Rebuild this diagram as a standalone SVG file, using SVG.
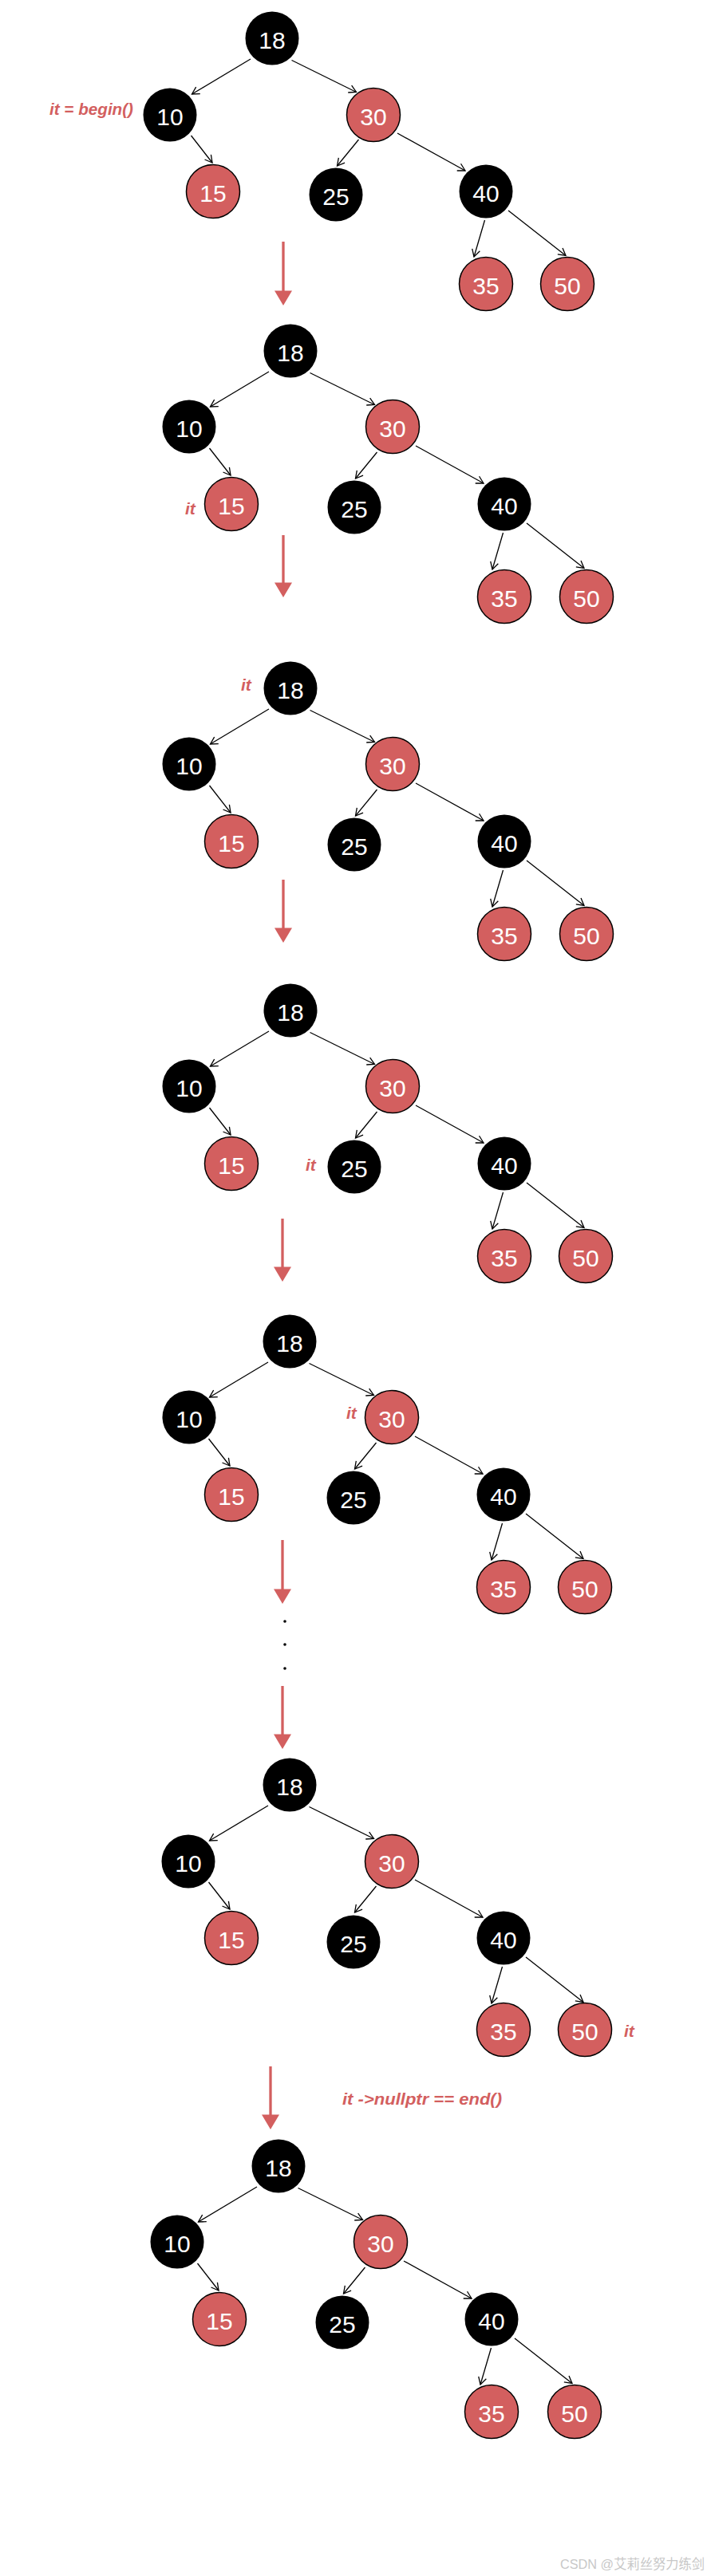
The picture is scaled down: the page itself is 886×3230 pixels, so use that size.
<svg xmlns="http://www.w3.org/2000/svg" width="886" height="3230" viewBox="0 0 886 3230">
<defs>
<style>
.blk{fill:#000}
.red{fill:#d35f5f;stroke:#000;stroke-width:1.5}
.num{font-family:"Liberation Sans",Arial,sans-serif;font-size:30px;fill:#fff;text-anchor:middle}
.edge{stroke:#000;stroke-width:1.3;fill:none;marker-end:url(#ah)}
.lbl{font-family:"Liberation Sans",Arial,sans-serif;font-size:21px;font-weight:bold;font-style:italic;fill:#d35f5f}
.flow{stroke:#d35f5f;stroke-width:3.3}
.head{fill:#d35f5f}
.wm{font-family:"Liberation Sans","Noto Sans CJK SC",sans-serif;font-size:17px;fill:#c8c8c8}
</style>
<marker id="ah" markerUnits="userSpaceOnUse" markerWidth="12" markerHeight="12" viewBox="-10 -6 12 12" refX="0" refY="0" orient="auto">
<path d="M-9,-5 L0,0 L-9,5" fill="none" stroke="#000" stroke-width="1.3"/>
</marker>
</defs>
<rect width="886" height="3230" fill="#fff"/>

<!-- Tree 1 -->
<g id="tree1" transform="translate(341,48)">
<g id="t1-edges">
<path class="edge" d="M-27,26 L-100.5,70"/><path class="edge" d="M24.5,27.5 L105.5,67.5"/><path class="edge" d="M-101.5,122 L-75,156"/><path class="edge" d="M108.5,127 L81.5,160"/><path class="edge" d="M157,119 L242,166"/><path class="edge" d="M266.5,228 L253,274"/><path class="edge" d="M296,216 L368,272.5"/>
</g>
<g id="t1-n18"><circle r="33.5" class="blk"/><text class="num" y="13">18</text></g>
<g id="t1-n10" transform="translate(-128,96)"><circle r="33.5" class="blk"/><text class="num" y="13">10</text></g>
<g id="t1-n30" transform="translate(127,96)"><circle r="33.5" class="red"/><text class="num" y="13">30</text></g>
<g id="t1-n15" transform="translate(-74,192)"><circle r="33.5" class="red"/><text class="num" y="13">15</text></g>
<g id="t1-n25" transform="translate(80,196)"><circle r="33.5" class="blk"/><text class="num" y="13">25</text></g>
<g id="t1-n40" transform="translate(268,192)"><circle r="33.5" class="blk"/><text class="num" y="13">40</text></g>
<g id="t1-n35" transform="translate(268,308)"><circle r="33.5" class="red"/><text class="num" y="13">35</text></g>
<g id="t1-n50" transform="translate(370,308)"><circle r="33.5" class="red"/><text class="num" y="13">50</text></g>
</g>

<!-- Tree 2 -->
<g id="tree2" transform="translate(364,440)">
<g id="t2-edges">
<path class="edge" d="M-27,26 L-100.5,70"/><path class="edge" d="M24.5,27.5 L105.5,67.5"/><path class="edge" d="M-101.5,122 L-75,156"/><path class="edge" d="M108.5,127 L81.5,160"/><path class="edge" d="M157,119 L242,166"/><path class="edge" d="M266.5,228 L253,274"/><path class="edge" d="M296,216 L368,272.5"/>
</g>
<g id="t2-n18"><circle r="33.5" class="blk"/><text class="num" y="13">18</text></g>
<g id="t2-n10" transform="translate(-127,95)"><circle r="33.5" class="blk"/><text class="num" y="13">10</text></g>
<g id="t2-n30" transform="translate(128,95)"><circle r="33.5" class="red"/><text class="num" y="13">30</text></g>
<g id="t2-n15" transform="translate(-74,192)"><circle r="33.5" class="red"/><text class="num" y="13">15</text></g>
<g id="t2-n25" transform="translate(80,196)"><circle r="33.5" class="blk"/><text class="num" y="13">25</text></g>
<g id="t2-n40" transform="translate(268,192)"><circle r="33.5" class="blk"/><text class="num" y="13">40</text></g>
<g id="t2-n35" transform="translate(268,308)"><circle r="33.5" class="red"/><text class="num" y="13">35</text></g>
<g id="t2-n50" transform="translate(371,308)"><circle r="33.5" class="red"/><text class="num" y="13">50</text></g>
</g>

<!-- Tree 3 -->
<g id="tree3" transform="translate(364,863)">
<g id="t3-edges">
<path class="edge" d="M-27,26 L-100.5,70"/><path class="edge" d="M24.5,27.5 L105.5,67.5"/><path class="edge" d="M-101.5,122 L-75,156"/><path class="edge" d="M108.5,127 L81.5,160"/><path class="edge" d="M157,119 L242,166"/><path class="edge" d="M266.5,228 L253,274"/><path class="edge" d="M296,216 L368,272.5"/>
</g>
<g id="t3-n18"><circle r="33.5" class="blk"/><text class="num" y="13">18</text></g>
<g id="t3-n10" transform="translate(-127,95)"><circle r="33.5" class="blk"/><text class="num" y="13">10</text></g>
<g id="t3-n30" transform="translate(128,95)"><circle r="33.5" class="red"/><text class="num" y="13">30</text></g>
<g id="t3-n15" transform="translate(-74,192)"><circle r="33.5" class="red"/><text class="num" y="13">15</text></g>
<g id="t3-n25" transform="translate(80,196)"><circle r="33.5" class="blk"/><text class="num" y="13">25</text></g>
<g id="t3-n40" transform="translate(268,192)"><circle r="33.5" class="blk"/><text class="num" y="13">40</text></g>
<g id="t3-n35" transform="translate(268,308)"><circle r="33.5" class="red"/><text class="num" y="13">35</text></g>
<g id="t3-n50" transform="translate(371,308)"><circle r="33.5" class="red"/><text class="num" y="13">50</text></g>
</g>

<!-- Tree 4 -->
<g id="tree4" transform="translate(364,1267)">
<g id="t4-edges">
<path class="edge" d="M-27,26 L-100.5,70"/><path class="edge" d="M24.5,27.5 L105.5,67.5"/><path class="edge" d="M-101.5,122 L-75,156"/><path class="edge" d="M108.5,127 L81.5,160"/><path class="edge" d="M157,119 L242,166"/><path class="edge" d="M266.5,228 L253,274"/><path class="edge" d="M296,216 L368,272.5"/>
</g>
<g id="t4-n18"><circle r="33.5" class="blk"/><text class="num" y="13">18</text></g>
<g id="t4-n10" transform="translate(-127,95)"><circle r="33.5" class="blk"/><text class="num" y="13">10</text></g>
<g id="t4-n30" transform="translate(128,95)"><circle r="33.5" class="red"/><text class="num" y="13">30</text></g>
<g id="t4-n15" transform="translate(-74,192)"><circle r="33.5" class="red"/><text class="num" y="13">15</text></g>
<g id="t4-n25" transform="translate(80,196)"><circle r="33.5" class="blk"/><text class="num" y="13">25</text></g>
<g id="t4-n40" transform="translate(268,192)"><circle r="33.5" class="blk"/><text class="num" y="13">40</text></g>
<g id="t4-n35" transform="translate(268,308)"><circle r="33.5" class="red"/><text class="num" y="13">35</text></g>
<g id="t4-n50" transform="translate(370,308)"><circle r="33.5" class="red"/><text class="num" y="13">50</text></g>
</g>

<!-- Tree 5 -->
<g id="tree5" transform="translate(363,1682)">
<g id="t5-edges">
<path class="edge" d="M-27,26 L-100.5,70"/><path class="edge" d="M24.5,27.5 L105.5,67.5"/><path class="edge" d="M-101.5,122 L-75,156"/><path class="edge" d="M108.5,127 L81.5,160"/><path class="edge" d="M157,119 L242,166"/><path class="edge" d="M266.5,228 L253,274"/><path class="edge" d="M296,216 L368,272.5"/>
</g>
<g id="t5-n18"><circle r="33.5" class="blk"/><text class="num" y="13">18</text></g>
<g id="t5-n10" transform="translate(-126,95)"><circle r="33.5" class="blk"/><text class="num" y="13">10</text></g>
<g id="t5-n30" transform="translate(128,95)"><circle r="33.5" class="red"/><text class="num" y="13">30</text></g>
<g id="t5-n15" transform="translate(-73,192)"><circle r="33.5" class="red"/><text class="num" y="13">15</text></g>
<g id="t5-n25" transform="translate(80,196)"><circle r="33.5" class="blk"/><text class="num" y="13">25</text></g>
<g id="t5-n40" transform="translate(268,192)"><circle r="33.5" class="blk"/><text class="num" y="13">40</text></g>
<g id="t5-n35" transform="translate(268,308)"><circle r="33.5" class="red"/><text class="num" y="13">35</text></g>
<g id="t5-n50" transform="translate(370,308)"><circle r="33.5" class="red"/><text class="num" y="13">50</text></g>
</g>

<!-- Tree 6 -->
<g id="tree6" transform="translate(363,2238)">
<g id="t6-edges">
<path class="edge" d="M-27,26 L-100.5,70"/><path class="edge" d="M24.5,27.5 L105.5,67.5"/><path class="edge" d="M-101.5,122 L-75,156"/><path class="edge" d="M108.5,127 L81.5,160"/><path class="edge" d="M157,119 L242,166"/><path class="edge" d="M266.5,228 L253,274"/><path class="edge" d="M296,216 L368,272.5"/>
</g>
<g id="t6-n18"><circle r="33.5" class="blk"/><text class="num" y="13">18</text></g>
<g id="t6-n10" transform="translate(-127,96)"><circle r="33.5" class="blk"/><text class="num" y="13">10</text></g>
<g id="t6-n30" transform="translate(128,96)"><circle r="33.5" class="red"/><text class="num" y="13">30</text></g>
<g id="t6-n15" transform="translate(-73,192)"><circle r="33.5" class="red"/><text class="num" y="13">15</text></g>
<g id="t6-n25" transform="translate(80,197)"><circle r="33.5" class="blk"/><text class="num" y="13">25</text></g>
<g id="t6-n40" transform="translate(268,192)"><circle r="33.5" class="blk"/><text class="num" y="13">40</text></g>
<g id="t6-n35" transform="translate(268,307)"><circle r="33.5" class="red"/><text class="num" y="13">35</text></g>
<g id="t6-n50" transform="translate(370,307)"><circle r="33.5" class="red"/><text class="num" y="13">50</text></g>
</g>

<!-- Tree 7 -->
<g id="tree7" transform="translate(349,2716)">
<g id="t7-edges">
<path class="edge" d="M-27,26 L-100.5,70"/><path class="edge" d="M24.5,27.5 L105.5,67.5"/><path class="edge" d="M-101.5,122 L-75,156"/><path class="edge" d="M108.5,127 L81.5,160"/><path class="edge" d="M157,119 L242,166"/><path class="edge" d="M266.5,228 L253,274"/><path class="edge" d="M296,216 L368,272.5"/>
</g>
<g id="t7-n18"><circle r="33.5" class="blk"/><text class="num" y="13">18</text></g>
<g id="t7-n10" transform="translate(-127,95)"><circle r="33.5" class="blk"/><text class="num" y="13">10</text></g>
<g id="t7-n30" transform="translate(128,95)"><circle r="33.5" class="red"/><text class="num" y="13">30</text></g>
<g id="t7-n15" transform="translate(-74,192)"><circle r="33.5" class="red"/><text class="num" y="13">15</text></g>
<g id="t7-n25" transform="translate(80,196)"><circle r="33.5" class="blk"/><text class="num" y="13">25</text></g>
<g id="t7-n40" transform="translate(267,192)"><circle r="33.5" class="blk"/><text class="num" y="13">40</text></g>
<g id="t7-n35" transform="translate(267,308)"><circle r="33.5" class="red"/><text class="num" y="13">35</text></g>
<g id="t7-n50" transform="translate(371,308)"><circle r="33.5" class="red"/><text class="num" y="13">50</text></g>
</g>

<!-- Step arrows -->
<g id="flow-arrows">
<line class="flow" x1="355" y1="303" x2="355" y2="366"/><polygon class="head" points="344,364.5 366,364.5 355,383"/>
<line class="flow" x1="355" y1="671" x2="355" y2="732"/><polygon class="head" points="344,730.5 366,730.5 355,749"/>
<line class="flow" x1="355" y1="1103" x2="355" y2="1165"/><polygon class="head" points="344,1163.5 366,1163.5 355,1182"/>
<line class="flow" x1="354" y1="1528" x2="354" y2="1590"/><polygon class="head" points="343,1588.5 365,1588.5 354,1607"/>
<line class="flow" x1="354" y1="1931" x2="354" y2="1994"/><polygon class="head" points="343,1992.5 365,1992.5 354,2011"/>
<line class="flow" x1="354" y1="2114" x2="354" y2="2176"/><polygon class="head" points="343,2174.5 365,2174.5 354,2193"/>
<line class="flow" x1="339" y1="2591" x2="339" y2="2653"/><polygon class="head" points="328,2651.5 350,2651.5 339,2670"/>
</g>

<g id="ellipsis">
<circle cx="357" cy="2033" r="1.8" fill="#000"/>
<circle cx="357" cy="2062" r="1.8" fill="#000"/>
<circle cx="357" cy="2092" r="1.8" fill="#000"/>
</g>

<g id="labels">
<text class="lbl" x="62" y="144" textLength="105" lengthAdjust="spacingAndGlyphs">it = begin()</text>
<text class="lbl" x="232" y="645">it</text>
<text class="lbl" x="302" y="866">it</text>
<text class="lbl" x="383" y="1468">it</text>
<text class="lbl" x="434" y="1779">it</text>
<text class="lbl" x="782" y="2554">it</text>
<text class="lbl" x="429" y="2639" textLength="200" lengthAdjust="spacingAndGlyphs">it -&gt;nullptr == end()</text>
</g>

<text class="wm" x="702" y="3221" textLength="181" lengthAdjust="spacingAndGlyphs">CSDN @艾莉丝努力练剑</text>
</svg>
